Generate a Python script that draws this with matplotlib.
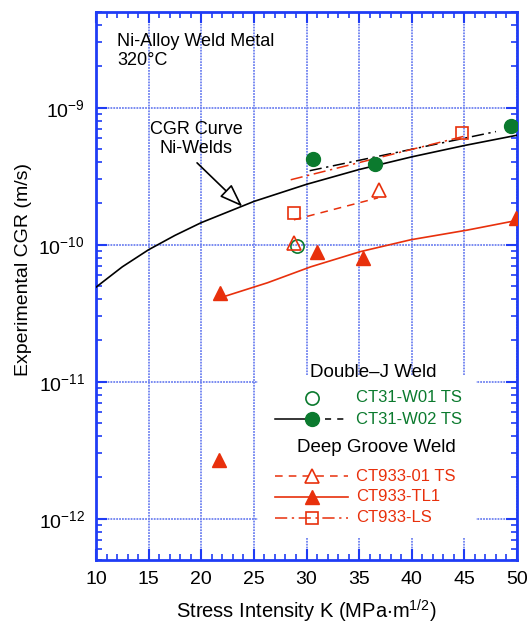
import numpy as np
import matplotlib
matplotlib.use("Agg")
import matplotlib.pyplot as plt
from matplotlib.lines import Line2D
from matplotlib.patches import Rectangle

plt.rcParams['font.family'] = ['Liberation Sans', 'DejaVu Sans']
plt.rcParams['mathtext.default'] = 'regular'

RED = '#e8300c'
GREEN = '#0b7a2e'
BLUE = '#1f3cf5'
GRID = '#6f82f0'

# CGR disposition curve for Ni-alloy welds
curve_k = [10, 12.5, 15, 17.5, 20, 25, 30, 35, 40, 45, 50]
curve_cgr = [4.9e-11, 6.9e-11, 9.2e-11, 1.17e-10, 1.45e-10, 2.07e-10,
             2.76e-10, 3.54e-10, 4.38e-10, 5.3e-10, 6.3e-10]

# Double-J weld
w01_k = [29.1]
w01_cgr = [9.8e-11]
w02_k = [30.6, 36.5, 49.4]
w02_cgr = [4.25e-10, 3.9e-10, 7.3e-10]
w02_fit_k = [30.3, 48.0]
w02_fit_cgr = [3.47e-10, 6.7e-10]

# Deep groove weld
ts01_k = [28.8, 36.9]
ts01_cgr = [1.03e-10, 2.52e-10]
ts01_fit_k = [28.8, 36.8]
ts01_fit_cgr = [1.52e-10, 2.2e-10]

tl1_k = [21.8, 31.0, 35.4, 49.9, 21.7]
tl1_cgr = [4.47e-11, 8.9e-11, 8.0e-11, 1.57e-10, 2.69e-12]
tl1_fit_k = [21.8, 26.3, 30.4, 35.1, 39.9, 45.3, 49.9]
tl1_fit_cgr = [4.1e-11, 5.28e-11, 6.9e-11, 8.9e-11, 1.087e-10, 1.28e-10, 1.5e-10]

ls_k = [28.8, 44.8]
ls_cgr = [1.71e-10, 6.57e-10]
ls_fit_k = [28.5, 45.0]
ls_fit_cgr = [2.98e-10, 6.2e-10]

x_ticks = [10, 15, 20, 25, 30, 35, 40, 45, 50]
y_ticks = [1e-12, 1e-11, 1e-10, 1e-9]
y_ticklabels = ['10$^{-12}$', '10$^{-11}$', '10$^{-10}$', '10$^{-9}$']

fig = plt.figure(figsize=(5.29, 6.24), dpi=100)
ax = fig.add_axes([0.1815, 0.1026, 0.7958, 0.8782])
ax.set_yscale('log')
ax.set_xlim(10, 50)
ax.set_ylim(5e-13, 5e-9)

ax.set_xticks(x_ticks)
ax.set_xticklabels([str(k) for k in x_ticks])
ax.set_xticks(np.arange(10, 51, 1), minor=True)
ax.set_yticks(y_ticks)
ax.set_yticklabels(y_ticklabels)
ax.yaxis.set_minor_locator(matplotlib.ticker.LogLocator(base=10, subs=np.arange(2, 10)))
ax.yaxis.set_minor_formatter(matplotlib.ticker.NullFormatter())

ax.tick_params(which='both', direction='in', top=True, right=True, color=BLUE,
               labelsize=14, pad=8)
ax.tick_params(which='major', length=8, width=1.5)
ax.tick_params(which='minor', length=4, width=1.2)
for sp in ax.spines.values():
    sp.set_color(BLUE)
    sp.set_linewidth(2)

ax.grid(True, which='major', color=GRID, linestyle=(0, (1, 0.6)), linewidth=1.3)
ax.set_axisbelow(True)

ax.set_xlabel('Stress Intensity K (MPa$\\cdot$m$^{1/2}$)', fontsize=14.5, labelpad=7)
ax.set_ylabel('Experimental CGR (m/s)', fontsize=14)
ax.yaxis.set_label_coords(-0.152, 0.53)

# curves and data
ax.plot(curve_k, curve_cgr, color='black', lw=1.2, zorder=3)
ax.plot(w02_fit_k, w02_fit_cgr, color='black', lw=1.1, ls=(0, (8, 3, 1.5, 3)), zorder=3)
ax.plot(ls_fit_k, ls_fit_cgr, color=RED, lw=1.1, ls=(0, (8, 3, 1.5, 3)), zorder=3)
ax.plot(ts01_fit_k, ts01_fit_cgr, color=RED, lw=1.1, ls=(0, (5, 4)), zorder=3)
ax.plot(tl1_fit_k, tl1_fit_cgr, color=RED, lw=1.2, zorder=3)

ax.plot(w01_k, w01_cgr, 'o', ms=9.5, mfc='none', mec=GREEN, mew=1.2, zorder=4)
ax.plot(w02_k, w02_cgr, 'o', ms=10, mfc=GREEN, mec=GREEN, zorder=4)
ax.plot(ts01_k, ts01_cgr, '^', ms=10, mfc='none', mec=RED, mew=1.2, zorder=4)
ax.plot(tl1_k, tl1_cgr, '^', ms=10, mfc=RED, mec=RED, zorder=4)
ax.plot(ls_k, ls_cgr, 's', ms=9, mfc='none', mec=RED, mew=1.2, zorder=4)

# annotations
ax.text(12.0, 2.58e-9, 'Ni-Alloy Weld Metal\n320°C', fontsize=13, ha='left', va='center',
        linespacing=1.15)
ax.text(19.5, 5.94e-10, 'CGR Curve\nNi-Welds', fontsize=13, ha='center', va='center',
        linespacing=1.15)
ax.annotate('', xy=(23.9, 1.9e-10), xytext=(19.6, 3.96e-10),
            arrowprops=dict(arrowstyle='-|>,head_length=1.1,head_width=0.4',
                            mutation_scale=13, fc='white', ec='black', lw=1.2,
                            shrinkA=0, shrinkB=0))

# legend (drawn by hand in axes fraction)
tr = ax.transAxes
ax.add_patch(Rectangle((0.385, 0.04), 0.518, 0.297, transform=tr, fc='white',
                       ec='none', zorder=2.5))
kx0, km, kx1, tx = 0.425, 0.513, 0.599, 0.618
ax.text(0.658, 0.343, 'Double\u2013J Weld', transform=tr, fontsize=13.5, ha='center',
        va='center', zorder=5)
ax.text(0.667, 0.206, 'Deep Groove Weld', transform=tr, fontsize=13.5, ha='center',
        va='center', zorder=5)
rows = [
    ('CT31-W01 TS', GREEN, 0.296),
    ('CT31-W02 TS', GREEN, 0.257),
    ('CT933-01 TS', RED, 0.153),
    ('CT933-TL1', RED, 0.115),
    ('CT933-LS', RED, 0.077),
]
for label, col, yy in rows:
    ax.text(tx, yy, label, transform=tr, fontsize=12, color=col, va='center', zorder=5)

ax.add_line(Line2D([km], [0.296], transform=tr, marker='o', ms=9.5, mfc='none',
                   mec=GREEN, mew=1.2, zorder=5))
ax.add_line(Line2D([kx0, km], [0.257, 0.257], transform=tr, color='black', lw=1.1, zorder=5))
ax.add_line(Line2D([km + 0.03, kx1], [0.257, 0.257], transform=tr, color='black', lw=1.1,
                   ls=(0, (4, 4)), zorder=5))
ax.add_line(Line2D([km], [0.257], transform=tr, marker='o', ms=10, mfc=GREEN,
                   mec=GREEN, zorder=5))
ax.add_line(Line2D([kx0, kx1], [0.153, 0.153], transform=tr, color=RED, lw=1.1,
                   ls=(0, (5, 4)), zorder=5))
ax.add_line(Line2D([km], [0.153], transform=tr, marker='^', ms=10, mfc='white',
                   mec=RED, mew=1.2, zorder=5))
ax.add_line(Line2D([kx0, kx1], [0.115, 0.115], transform=tr, color=RED, lw=1.2, zorder=5))
ax.add_line(Line2D([km], [0.115], transform=tr, marker='^', ms=10, mfc=RED, mec=RED,
                   zorder=5))
ax.add_line(Line2D([kx0, kx1], [0.077, 0.077], transform=tr, color=RED, lw=1.1,
                   ls=(0, (8, 3, 1.5, 3)), zorder=5))
ax.add_line(Line2D([km], [0.077], transform=tr, marker='s', ms=9, mfc='none', mec=RED,
                   mew=1.2, zorder=5))

fig.savefig('out.png', dpi=100)
